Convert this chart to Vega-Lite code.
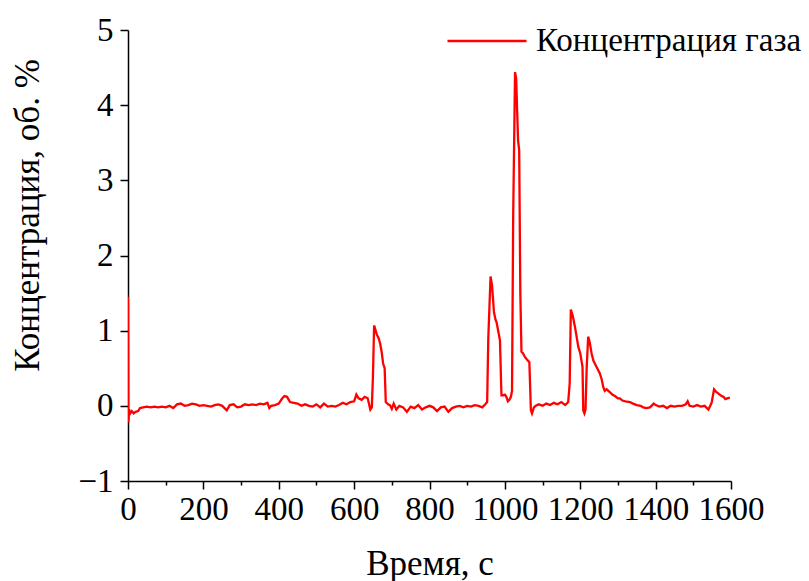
{
  "$schema": "https://vega.github.io/schema/vega-lite/v6.json",
  "width": 603,
  "height": 451,
  "autosize": {"type": "none"},
  "padding": {"left": 128, "top": 30, "right": 78, "bottom": 100},
  "background": "white",
  "config": {
    "view": {"stroke": null},
    "font": "Liberation Serif",
    "axis": {
      "domainColor": "black", "domainWidth": 1.5, "tickColor": "black", "tickWidth": 1.5,
      "labelColor": "black", "titleColor": "black", "labelFont": "Liberation Serif", "titleFont": "Liberation Serif",
      "labelFontSize": 33, "titleFontSize": 35, "titleFontWeight": "normal", "grid": false,
      "labelOverlap": false, "labelBound": false, "labelFlush": false
    }
  },
  "data": {"values": [
    {"t":0,"c":1.45},{"t":1,"c":-0.22},{"t":3,"c":-0.05},{"t":6,"c":-0.1},{"t":10,"c":-0.07},{"t":15,"c":-0.1},{"t":20,"c":-0.08},{"t":27,"c":-0.07},{"t":32,"c":-0.03},{"t":40,"c":-0.02},{"t":50,"c":-0.01},{"t":60,"c":-0.02},{"t":70,"c":-0.01},{"t":80,"c":-0.02},{"t":90,"c":-0.01},{"t":100,"c":-0.02},{"t":110,"c":0.0},{"t":120,"c":-0.03},{"t":130,"c":0.02},{"t":140,"c":0.03},{"t":150,"c":0.0},{"t":160,"c":0.01},{"t":170,"c":0.03},{"t":180,"c":0.02},{"t":190,"c":0.0},{"t":200,"c":0.01},{"t":210,"c":0.0},{"t":220,"c":-0.01},{"t":230,"c":0.01},{"t":240,"c":0.02},{"t":250,"c":0.0},{"t":262,"c":-0.06},{"t":270,"c":0.01},{"t":280,"c":0.02},{"t":290,"c":-0.02},{"t":300,"c":-0.01},{"t":310,"c":0.02},{"t":320,"c":0.01},{"t":330,"c":0.02},{"t":340,"c":0.01},{"t":350,"c":0.03},{"t":360,"c":0.02},{"t":370,"c":0.04},{"t":375,"c":-0.03},{"t":380,"c":0.0},{"t":390,"c":0.01},{"t":400,"c":0.03},{"t":408,"c":0.09},{"t":415,"c":0.13},{"t":422,"c":0.12},{"t":430,"c":0.05},{"t":440,"c":0.04},{"t":450,"c":0.03},{"t":460,"c":0.0},{"t":470,"c":0.02},{"t":480,"c":0.0},{"t":490,"c":-0.01},{"t":500,"c":0.02},{"t":510,"c":-0.02},{"t":520,"c":0.03},{"t":530,"c":-0.01},{"t":540,"c":0.0},{"t":550,"c":-0.01},{"t":560,"c":0.01},{"t":570,"c":0.04},{"t":580,"c":0.02},{"t":590,"c":0.05},{"t":600,"c":0.06},{"t":606,"c":0.15},{"t":612,"c":0.1},{"t":620,"c":0.08},{"t":628,"c":0.12},{"t":636,"c":0.1},{"t":643,"c":-0.05},{"t":647,"c":-0.02},{"t":650,"c":0.4},{"t":653,"c":1.07},{"t":656,"c":1.02},{"t":660,"c":0.95},{"t":665,"c":0.9},{"t":669,"c":0.83},{"t":673,"c":0.72},{"t":677,"c":0.56},{"t":681,"c":0.5},{"t":684,"c":0.05},{"t":690,"c":0.02},{"t":695,"c":0.01},{"t":700,"c":-0.04},{"t":705,"c":0.03},{"t":712,"c":-0.05},{"t":720,"c":0.0},{"t":730,"c":-0.02},{"t":740,"c":-0.08},{"t":750,"c":-0.01},{"t":760,"c":-0.03},{"t":770,"c":0.01},{"t":780,"c":-0.05},{"t":790,"c":-0.02},{"t":800,"c":0.0},{"t":810,"c":-0.02},{"t":820,"c":-0.07},{"t":830,"c":-0.02},{"t":840,"c":-0.01},{"t":850,"c":-0.08},{"t":860,"c":-0.03},{"t":870,"c":-0.01},{"t":880,"c":0.0},{"t":890,"c":-0.02},{"t":900,"c":0.0},{"t":910,"c":-0.01},{"t":920,"c":0.01},{"t":930,"c":0.0},{"t":940,"c":-0.02},{"t":948,"c":0.02},{"t":953,"c":0.05},{"t":956,"c":0.9},{"t":962,"c":1.72},{"t":966,"c":1.6},{"t":971,"c":1.25},{"t":975,"c":1.15},{"t":978,"c":1.11},{"t":983,"c":0.98},{"t":987,"c":0.87},{"t":990,"c":0.3},{"t":991,"c":0.14},{"t":995,"c":0.14},{"t":1000,"c":0.15},{"t":1004,"c":0.12},{"t":1008,"c":0.06},{"t":1012,"c":0.08},{"t":1016,"c":0.12},{"t":1019,"c":0.2},{"t":1022,"c":2.5},{"t":1027,"c":4.44},{"t":1030,"c":4.35},{"t":1035,"c":3.53},{"t":1038,"c":3.4},{"t":1041,"c":1.5},{"t":1044,"c":0.72},{"t":1048,"c":0.7},{"t":1053,"c":0.65},{"t":1058,"c":0.62},{"t":1065,"c":0.58},{"t":1069,"c":-0.06},{"t":1072,"c":-0.1},{"t":1077,"c":-0.02},{"t":1082,"c":0.0},{"t":1090,"c":0.02},{"t":1100,"c":0.0},{"t":1110,"c":0.03},{"t":1120,"c":0.01},{"t":1130,"c":0.04},{"t":1140,"c":0.02},{"t":1150,"c":0.05},{"t":1160,"c":0.01},{"t":1168,"c":0.05},{"t":1172,"c":0.3},{"t":1175,"c":1.28},{"t":1180,"c":1.2},{"t":1186,"c":1.05},{"t":1190,"c":0.93},{"t":1195,"c":0.78},{"t":1200,"c":0.7},{"t":1206,"c":0.52},{"t":1208,"c":-0.06},{"t":1211,"c":-0.1},{"t":1214,"c":-0.05},{"t":1217,"c":0.5},{"t":1221,"c":0.92},{"t":1225,"c":0.85},{"t":1230,"c":0.7},{"t":1235,"c":0.6},{"t":1240,"c":0.55},{"t":1245,"c":0.5},{"t":1252,"c":0.43},{"t":1257,"c":0.35},{"t":1261,"c":0.25},{"t":1265,"c":0.2},{"t":1270,"c":0.22},{"t":1279,"c":0.18},{"t":1285,"c":0.15},{"t":1292,"c":0.13},{"t":1300,"c":0.1},{"t":1305,"c":0.1},{"t":1312,"c":0.07},{"t":1320,"c":0.06},{"t":1332,"c":0.05},{"t":1340,"c":0.03},{"t":1350,"c":0.01},{"t":1360,"c":0.0},{"t":1367,"c":-0.02},{"t":1375,"c":-0.03},{"t":1385,"c":-0.02},{"t":1395,"c":0.03},{"t":1400,"c":0.01},{"t":1410,"c":-0.01},{"t":1420,"c":0.0},{"t":1430,"c":-0.03},{"t":1440,"c":0.0},{"t":1450,"c":-0.01},{"t":1460,"c":0.0},{"t":1470,"c":0.0},{"t":1480,"c":0.02},{"t":1485,"c":0.06},{"t":1490,"c":0.0},{"t":1500,"c":-0.01},{"t":1510,"c":0.01},{"t":1520,"c":-0.01},{"t":1530,"c":0.0},{"t":1540,"c":-0.05},{"t":1545,"c":0.0},{"t":1549,"c":0.05},{"t":1555,"c":0.22},{"t":1560,"c":0.19},{"t":1565,"c":0.17},{"t":1570,"c":0.15},{"t":1575,"c":0.13},{"t":1580,"c":0.12},{"t":1585,"c":0.09},{"t":1590,"c":0.1},{"t":1597,"c":0.11}
  ]},
  "transform": [{"calculate": "'Концентрация газа'", "as": "series"}],
  "mark": {"type": "line", "strokeWidth": 2.3, "clip": true, "interpolate": "linear"},
  "encoding": {
    "x": {
      "field": "t", "type": "quantitative",
      "scale": {"domain": [0, 1600], "nice": false, "zero": false},
      "axis": {
        "title": "Время, с",
        "values": [0,100,200,300,400,500,600,700,800,900,1000,1100,1200,1300,1400,1500,1600],
        "labelExpr": "datum.value % 200 === 0 ? datum.label : ''",
        "format": "d",
        "tickSize": {"condition": {"test": "datum.value % 200 === 0", "value": 8}, "value": 4},
        "labelPadding": 4,
        "titleBaseline": "alphabetic",
        "titleY": 93,
        "titleX": 301.5
      }
    },
    "y": {
      "field": "c", "type": "quantitative",
      "scale": {"domain": [-1, 5], "nice": false, "zero": false},
      "axis": {
        "title": "Концентрация, об. %",
        "values": [-1,-0.5,0,0.5,1,1.5,2,2.5,3,3.5,4,4.5,5],
        "labelExpr": "datum.value % 1 === 0 ? datum.label : ''",
        "format": "d",
        "tickSize": {"condition": {"test": "datum.value % 1 === 0", "value": 8}, "value": 4},
        "labelPadding": 7,
        "titleBaseline": "alphabetic",
        "titleAngle": -90,
        "titleX": -90,
        "titleY": 185,
        "titleAlign": "center"
      }
    },
    "color": {
      "field": "series", "type": "nominal",
      "scale": {"range": ["#ff0000"]},
      "legend": {
        "title": null, "orient": "none", "legendX": 318, "legendY": -30,
        "symbolType": "stroke", "symbolSize": 6241, "symbolStrokeWidth": 2.3,
        "labelFontSize": 33, "labelFont": "Liberation Serif", "labelColor": "black",
        "labelOffset": 8, "labelLimit": 0, "padding": 0
      }
    }
  }
}
